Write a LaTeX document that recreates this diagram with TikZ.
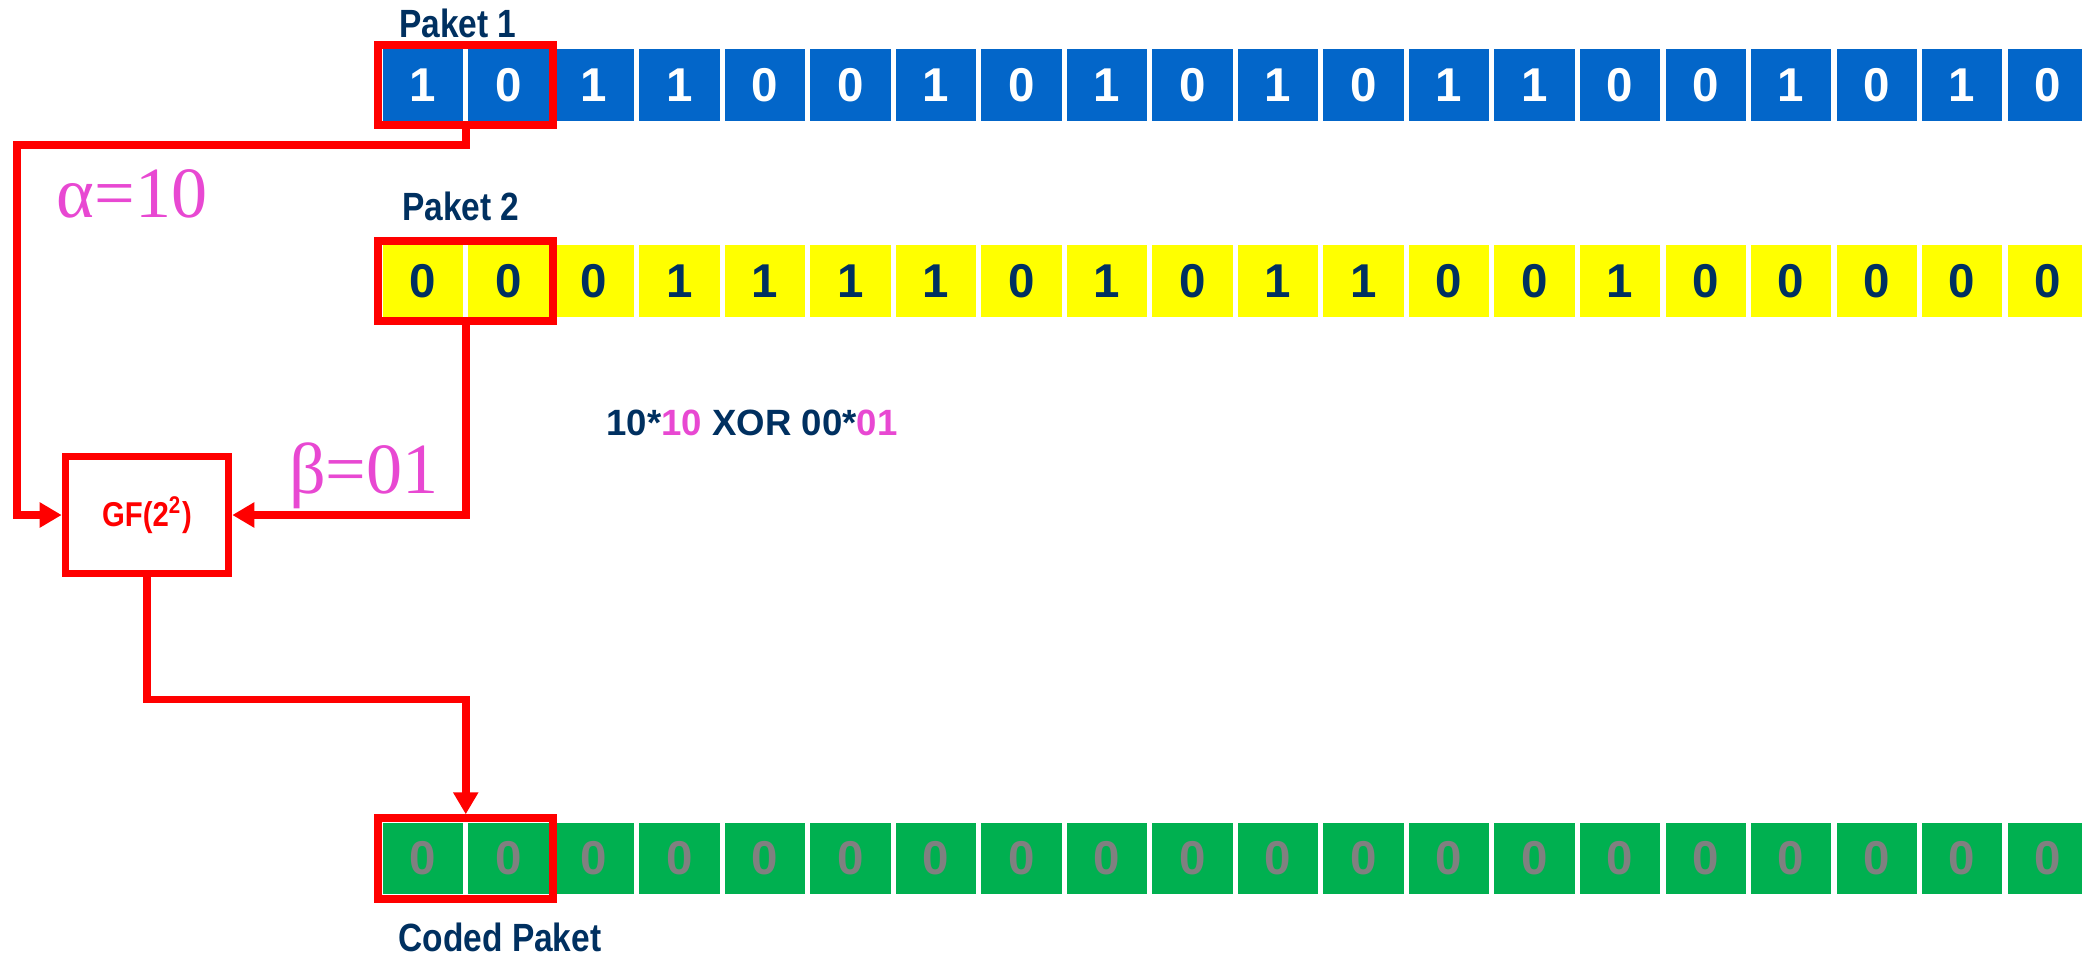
\documentclass[tikz,border=0pt]{standalone}
\usepackage{fontspec}
\setmainfont{Liberation Sans}
\newfontfamily\coefffont{Liberation Serif}
\newfontfamily\condfont{Liberation Sans}[FakeStretch=0.85]
\usepackage{tikz}
\usepackage{xcolor}
\usetikzlibrary{arrows.meta, positioning, calc, fit}
\definecolor{cBlue}{RGB}{3,102,201}
\definecolor{cYellow}{RGB}{255,255,0}
\definecolor{cGreen}{RGB}{0,176,80}
\definecolor{cRed}{RGB}{255,0,0}
\definecolor{cNavy}{RGB}{0,48,96}
\definecolor{cPink}{RGB}{232,72,210}
\definecolor{cGrey}{RGB}{128,128,128}
\tikzset{
	bitcell/.style  ={rectangle, minimum width=0.8cm, minimum height=0.71cm, inner sep=0pt, font=\fontsize{13.5}{14}\selectfont\bfseries},
	bitA/.style     ={bitcell, fill=cBlue, text=white},
	bitB/.style     ={bitcell, fill=cYellow, text=cNavy},
	bitC/.style     ={bitcell, fill=cGreen, text=cGrey},
	% red selection frames and the GF block
	selbox/.style   ={rectangle, draw=cRed, line width=0.08cm, inner sep=0.04cm},
	gfbox/.style    ={rectangle, draw=cRed, line width=0.075cm, minimum width=1.63cm, minimum height=1.165cm, text=cRed, font=\condfont\fontsize{9.8}{11}\selectfont\bfseries},
	redarrow/.style ={-{Triangle[length=0.22cm, width=0.24cm]}, draw=cRed, line width=0.075cm},
	% texts
	paketlbl/.style ={text=cNavy, font=\condfont\fontsize{11.2}{13}\selectfont\bfseries, anchor=base, inner sep=0pt},
	coeff/.style    ={text=cPink, font=\coefffont\fontsize{20.5}{23}\selectfont, anchor=base, inner sep=0pt},
}

\begin{document}
\begin{tikzpicture}[x=0.01cm, y=-0.01cm]
	\useasboundingbox (0,0) rectangle (2082,957);
	% packet rows
	\foreach \b [count=\i from 0] in {1,0,1,1,0,0,1,0,1,0,1,0,1,1,0,0,1,0,1,0}
		\node[bitA] (pa\i) at (423+85.5*\i, 85) {\b};
	\foreach \b [count=\i from 0] in {0,0,0,1,1,1,1,0,1,0,1,1,0,0,1,0,0,0,0,0}
		\node[bitB] (pb\i) at (423+85.5*\i, 281) {\b};
	\foreach \i in {0,...,19}
		\node[bitC] (cp\i) at (423+85.5*\i, 858.5) {0};
	\node[selbox, fit=(pa0)(pa1)] (sel1) {};
	\node[selbox, fit=(pb0)(pb1)] (sel2) {};
	\node[selbox, fit=(cp0)(cp1)] (sel3) {};
	\node[paketlbl] (lbl1) at (458,37) {Paket 1};
	\node[paketlbl] (lbl2) at (461,220) {Paket 2};
	\node[paketlbl] (lbl3) at (500,951) {Coded Paket};
	% coding
	\node[gfbox] (gf) at (147,515) {GF(2\textsuperscript{2})};
	\draw[redarrow] (sel1.south) |- (17,145) |- (gf.west);
	\draw[redarrow] (sel2.south) |- (gf.east);
	\draw[redarrow] (gf.south) -- ++(0,122.5) -| (sel3.north);
	\node[coeff] (alpha) at (132,217) {α=10};
	\node[coeff] (beta) at (364,493) {β=01};
	\node[text=cNavy, font=\fontsize{10.4}{12}\selectfont\bfseries, anchor=base, inner sep=0pt] (xor) at (752,435) {10*\textcolor{cPink}{10} XOR 00*\textcolor{cPink}{01}};
\end{tikzpicture}
\end{document}
